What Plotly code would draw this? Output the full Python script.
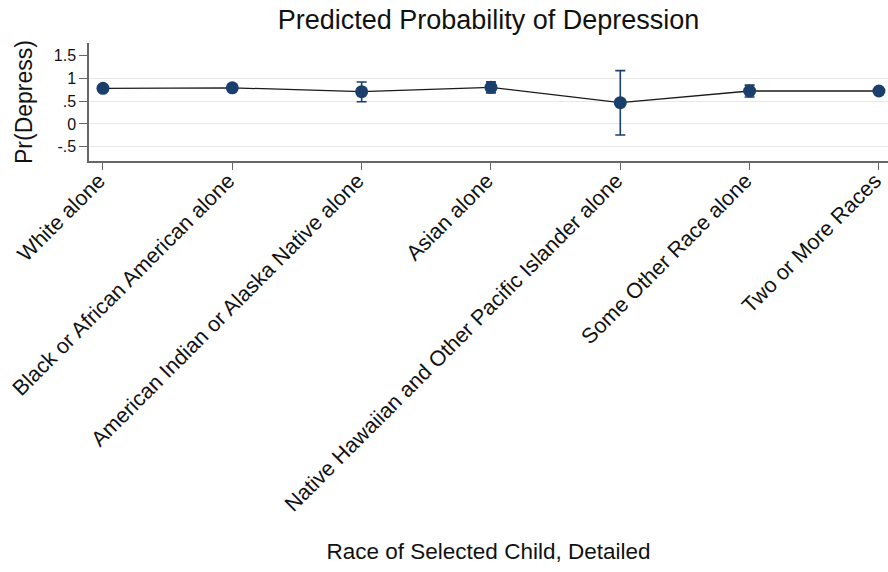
import plotly.graph_objects as go

categories = [
    "White alone",
    "Black or African American alone",
    "American Indian or Alaska Native alone",
    "Asian alone",
    "Native Hawaiian and Other Pacific Islander alone",
    "Some Other Race alone",
    "Two or More Races",
]
x_pos = [1, 2, 3, 4, 5, 6, 7]
prob = [0.78, 0.79, 0.705, 0.80, 0.465, 0.72, 0.72]
ci_low = [0.75, 0.76, 0.486, 0.68, -0.243, 0.59, 0.69]
ci_high = [0.81, 0.82, 0.917, 0.92, 1.165, 0.85, 0.75]

y_tickvals = [-0.5, 0, 0.5, 1, 1.5]
y_ticktext = ["-.5", "0", ".5", "1", "1.5"]
grid_vals = [-0.5, 0, 0.5, 1]

navy = "#1a3f6c"
font = "Liberation Sans, Arial, Helvetica, sans-serif"

err_plus = [h - p for h, p in zip(ci_high, prob)]
err_minus = [p - l for p, l in zip(prob, ci_low)]

fig = go.Figure()
# dummy trace to activate the grid axis
fig.add_trace(go.Scatter(x=[None], y=[None], yaxis="y2", showlegend=False, hoverinfo="skip"))
fig.add_trace(go.Scatter(
    x=x_pos, y=prob, mode="lines+markers",
    line=dict(color="#1a1a1a", width=1.3),
    marker=dict(color=navy, size=13),
    error_y=dict(type="data", symmetric=False, array=err_plus, arrayminus=err_minus,
                 color=navy, thickness=1.6, width=5),
    cliponaxis=False,
    showlegend=False,
))

fig.update_layout(
    width=888, height=572,
    margin=dict(l=89, r=0, t=43, b=411),
    paper_bgcolor="white", plot_bgcolor="white",
    font=dict(family=font, color="#111"),
    title=dict(text="Predicted Probability of Depression", x=0.5, xanchor="center",
               xref="paper", yref="container", y=0.965, yanchor="middle",
               font=dict(size=27, color="#111")),
    xaxis=dict(
        range=[0.892, 7.07], tickvals=x_pos, ticktext=categories, tickangle=-45,
        automargin=False, ticklabeloverflow="allow",
        ticklabelstandoff=-10, ticklabelshift=-4,
        showgrid=False, zeroline=False, showline=True, linecolor="#666", linewidth=1.5,
        ticks="outside", ticklen=7, tickcolor="#666", tickwidth=1.2,
        tickfont=dict(size=21.5, color="#111"),
        title=dict(text="Race of Selected Child, Detailed", font=dict(size=22.5, color="#111"), standoff=28),
    ),
    yaxis=dict(
        range=[-0.81, 1.77], tickvals=y_tickvals, ticktext=y_ticktext,
        automargin=False,
        showgrid=False, zeroline=False, showline=True, linecolor="#666", linewidth=1.5,
        ticks="outside", ticklen=8, tickcolor="#666", tickwidth=1.2,
        tickfont=dict(size=16, color="#111"),
        title=dict(text="Pr(Depress)", font=dict(size=23, color="#111"), standoff=15),
    ),
    yaxis2=dict(
        range=[-0.81, 1.77], tickvals=grid_vals, overlaying="y", showticklabels=False,
        automargin=False,
        showgrid=True, gridcolor="#e8e8e8", gridwidth=1.2, zeroline=False, showline=False,
    ),
)

fig.write_html("out.html", config={"displayModeBar": False},
               post_script="document.body.style.margin='0';")
